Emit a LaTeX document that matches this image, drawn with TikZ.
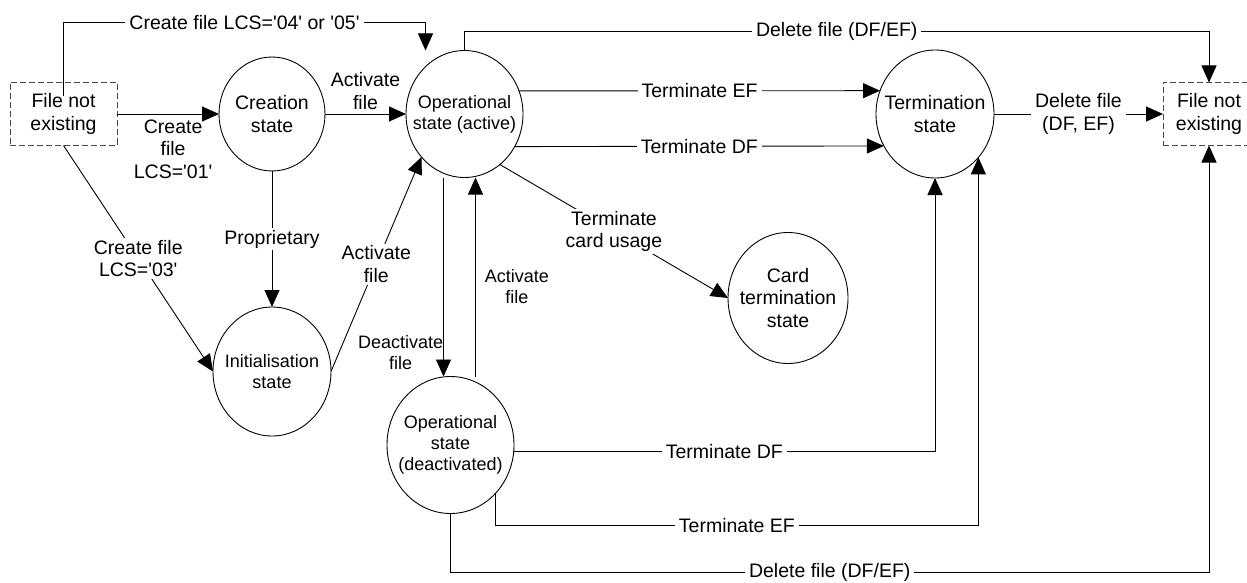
\documentclass[tikz,border=0pt]{standalone}
\usepackage{fontspec}
\setmainfont{Liberation Sans}
\usepackage{tikz}
\usetikzlibrary{arrows.meta,positioning,shapes.geometric}
\newcommand{\bigfont}{\fontsize{19.5}{22.5}\selectfont}
\newcommand{\smfont}{\fontsize{18}{21}\selectfont}
\newcommand{\sq}{\textquotesingle}

\begin{document}
\begin{tikzpicture}[
  x=1pt, y=-1pt,
  line width=0.9pt,
  state/.style={draw, ellipse, inner sep=-15pt, outer sep=0pt, align=center, font=\bigfont},
  nofile/.style={draw=black!72, dash pattern=on 6pt off 3pt, minimum width=107pt, minimum height=63pt, inner sep=0pt, outer sep=0pt, align=center, font=\bigfont},
  lbl/.style={fill=white, inner xsep=4pt, inner ysep=2pt, align=center, font=\bigfont},
  side/.style={align=center, inner sep=0pt, font=\bigfont},
  arr/.style={-{Triangle[length=17pt, width=15pt]}}
]
  \useasboundingbox (0,0) rectangle (1247,583);

  \node[nofile] (nf1) at (63.5,114) {File not\\existing};
  \node[state, minimum width=106pt, minimum height=114pt, right=102pt of nf1] (create) {Creation\\state};
  \node[state, minimum width=117pt, minimum height=127pt, right=81pt of create, font=\smfont] (opact) {Operational\\state (active)};
  \node[state, minimum width=118pt, minimum height=128pt, right=353pt of opact] (term) {Termination\\state};
  \node[nofile, minimum width=92pt, right=169pt of term] (nf2) {File not\\existing};

  \node[state, minimum width=118pt, minimum height=129pt, below=136pt of create, font=\smfont] (init) {Initialisation\\state};
  \node[state, minimum width=127pt, minimum height=137pt, below=199pt of opact, xshift=-14pt, font=\smfont] (opdeact) {Operational\\state\\(deactivated)};
  \node[state, minimum width=120pt, minimum height=131pt] (card) at (788,298) {Card\\termination\\state};

  \coordinate (opact-in) at ([xshift=-39pt]opact.north);

  \draw[arr] (nf1) -- node[below=5pt, side, pos=0.55] {Create\\file\\LCS=\sq01\sq} (create);
  \draw[arr] ([yshift=-14pt]nf1.north) -- ++(0,-74) -| node[lbl, pos=0.25] {Create file LCS=\sq04\sq\ or \sq05\sq} (opact-in);
  \draw[arr] (nf1.south) -- node[lbl] {Create file\\LCS=\sq03\sq} (init.west);
  \draw[arr] (create) -- node[above=4pt, side] {Activate\\file} (opact);
  \draw[arr] (create) -- node[lbl] {Proprietary} (init);
  \draw[arr] (init.east) -- node[lbl] {Activate\\file} (opact.225);

  \draw[arr] ([xshift=-21pt]opact.south) -- node[side, anchor=east, pos=0.88, font=\smfont] {Deactivate\\file} ([xshift=-7pt]opdeact.north);
  \draw[arr] ([xshift=25pt]opdeact.north) -- node[side, anchor=west, xshift=9pt, pos=0.45, font=\smfont] {Activate\\file} ([xshift=11pt]opact.south);

  \draw[arr] (opact.23) -- node[lbl] {Terminate EF} (term.157);
  \draw[arr] (opact.-33) -- node[lbl] {Terminate DF} (term.-148);
  \draw[arr] (opact.-55) -- node[lbl] {Terminate\\card usage} (card.west);
  \draw[arr] (opact.north) -- ++(0,-19) -| node[lbl, pos=0.25] {Delete file (DF/EF)} (nf2.north);
  \draw[arr] (term) -- node[lbl] {Delete file\\(DF, EF)} (nf2);

  \draw[arr] (opdeact.-6) -| node[lbl, pos=0.25] {Terminate DF} (term.south);
  \draw[arr] (opdeact.south east) -- ++(0,32) -| node[lbl, pos=0.25] {Terminate EF} (term.-45);
  \draw[arr] (opdeact.south) -- ++(0,59) -| node[lbl, pos=0.25] {Delete file (DF/EF)} (nf2.south);
\end{tikzpicture}
\end{document}
